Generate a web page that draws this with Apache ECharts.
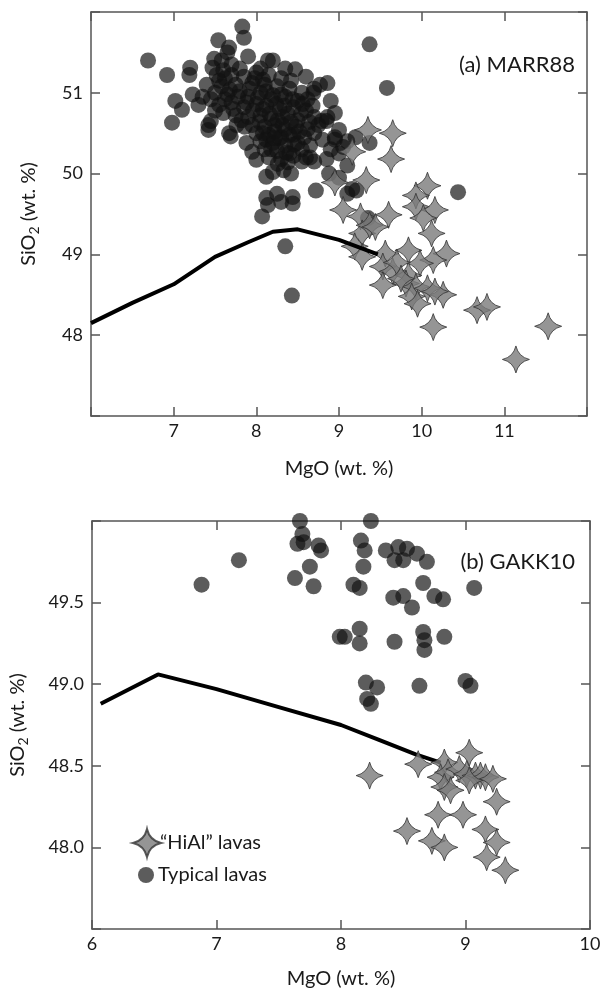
<!DOCTYPE html>
<html>
<head>
<meta charset="utf-8">
<script src="https://cdn.jsdelivr.net/npm/echarts@6/dist/echarts.min.js"></script>
<style>
html,body{margin:0;padding:0;background:#fff;}
#chart{width:604px;height:991px;}
</style>
</head>
<body>
<div id="chart"></div>
<script>
// ---------- DATA ----------
// Panel (a) MARR88 : [MgO, SiO2]
var typicalA = [
 [6.69,51.40],[6.92,51.22],[7.20,51.31],[7.19,51.22],[7.23,50.98],[7.02,50.90],[7.10,50.79],[6.98,50.63],
 [7.42,50.60],[7.42,50.54],[7.49,51.42],[7.47,51.31],[7.54,51.65],[7.67,51.56],[7.65,51.50],[7.83,51.82],
 [7.85,51.68],[8.14,51.40],[8.47,51.29],[8.42,51.15],[8.77,51.10],[8.86,51.12],[8.69,51.00],[9.37,51.60],
 [9.58,51.06],[7.69,50.46],[7.67,50.50],[7.88,50.38],[7.95,50.27],[8.00,50.17],[8.12,49.96],[8.20,50.02],
 [8.33,50.04],[8.42,50.00],[8.65,50.20],[8.86,50.70],[8.79,50.65],[9.00,50.54],[8.95,50.42],[9.05,50.33],
 [9.37,50.38],[10.44,49.77],[9.16,49.81],[8.72,49.79],[8.44,49.71],[8.30,49.65],[8.14,49.61],[8.07,49.47],
 [8.44,49.63],[8.35,49.10],[8.43,48.49],[9.21,49.79],[9.10,49.75],[9.35,49.45],
 [7.60,51.28],[7.70,51.22],[7.85,51.20],[8.00,51.25],[8.15,51.22],[8.30,51.18],[7.55,51.15],[7.75,51.10],
 [7.95,51.12],[8.10,51.10],[8.25,51.08],[8.40,51.05],[8.55,51.00],[7.50,51.00],[7.65,50.98],[7.80,51.02],
 [7.90,50.95],[8.05,51.00],[8.20,50.97],[8.35,50.95],[8.50,50.90],[8.62,50.92],[7.45,50.92],[7.55,50.85],
 [7.70,50.88],[7.85,50.82],[8.00,50.86],[8.12,50.84],[8.28,50.80],[8.45,50.82],[8.60,50.78],[7.60,50.75],
 [7.75,50.72],[7.90,50.70],[8.05,50.72],[8.18,50.68],[8.32,50.70],[8.50,50.66],[8.70,50.70],[8.85,50.65],
 [7.95,50.60],[8.10,50.58],[8.22,50.60],[8.35,50.55],[8.48,50.58],[8.62,50.55],[8.75,50.60],[8.00,50.50],
 [8.15,50.48],[8.30,50.45],[8.45,50.48],[8.58,50.45],[8.70,50.50],[8.05,50.40],[8.20,50.38],[8.35,50.35],
 [8.50,50.38],[8.65,50.35],[8.80,50.42],[8.10,50.30],[8.25,50.28],[8.40,50.25],[8.55,50.30],[8.15,50.20],
 [8.30,50.18],[8.45,50.22],[8.60,50.20],[8.90,50.30],[9.10,50.40],[8.70,50.15],[8.95,50.45],[9.00,50.25],
 [9.20,50.45],[7.40,51.10],[7.35,50.95],[7.50,50.78],[7.45,50.65],[7.30,50.85],[7.58,51.40],[7.70,51.35],
 [7.90,51.45],[8.20,51.40],[8.05,51.30],[8.35,51.30],[8.60,51.20],[8.70,51.05],[8.90,50.90],[8.95,50.75],
 [8.55,50.15],[8.85,50.18],[8.88,50.00],[9.10,50.10],[9.00,49.95],[8.25,49.75],[8.12,49.70],
 [7.58,51.08],[7.62,50.92],[7.68,51.04],[7.72,50.80],[7.78,50.95],[7.82,50.66],[7.88,50.88],[7.92,51.05],
 [7.96,50.78],[8.02,50.94],[8.04,50.64],[8.08,50.80],[8.12,51.02],[8.16,50.74],[8.18,50.92],[8.22,50.52],
 [8.24,50.86],[8.26,50.66],[8.28,50.44],[8.30,50.98],[8.32,50.60],[8.34,50.84],[8.38,50.74],[8.40,50.48],
 [8.42,50.64],[8.44,50.92],[8.46,50.36],[8.52,50.52],[8.54,50.74],[8.56,50.86],[8.08,50.50],[8.12,50.42],
 [8.18,50.30],[8.22,50.44],[8.26,50.12],[8.36,50.26],[8.38,50.14],[7.62,51.18],[7.80,51.30],[7.98,51.18],
 [8.08,51.16],[7.52,51.22],[7.86,50.58],[7.76,50.60],[8.64,50.64],[8.68,50.84]
];
var hialA = [
 [9.35,50.54],[9.65,50.50],[9.16,50.27],[9.63,50.18],[8.95,49.89],[9.33,49.92],[10.07,49.85],[9.93,49.73],
 [9.05,49.55],[9.26,49.47],[9.60,49.49],[9.93,49.59],[10.16,49.55],[10.02,49.45],[10.12,49.26],[9.28,49.26],
 [9.37,49.36],[9.44,49.34],[9.19,49.10],[9.28,48.97],[9.56,49.01],[9.84,49.05],[10.30,49.01],[10.14,48.93],
 [9.98,48.89],[9.53,48.85],[9.65,48.79],[9.84,48.74],[9.53,48.62],[9.81,48.64],[9.93,48.60],[9.88,48.48],
 [10.07,48.58],[10.26,48.50],[10.16,48.54],[9.95,48.39],[10.14,48.10],[10.67,48.31],[10.79,48.35],
 [11.53,48.11],[11.14,47.70],[9.70,48.90],[9.75,48.70]
];
var pathA = [[6.00,48.15],[6.50,48.40],[7.00,48.63],[7.50,48.97],[7.90,49.15],[8.20,49.28],[8.50,49.31],[9.00,49.18],[9.47,49.00]];

// Panel (b) GAKK10
var typicalB = [
 [7.67,50.00],[8.24,50.00],[7.69,49.92],[7.65,49.86],[7.70,49.87],[7.82,49.85],[7.84,49.82],[7.18,49.76],
 [7.75,49.72],[7.63,49.65],[7.78,49.60],[6.88,49.61],[8.16,49.88],[8.19,49.82],[8.18,49.72],[8.10,49.61],
 [8.15,49.59],[8.36,49.82],[8.46,49.84],[8.53,49.83],[8.43,49.76],[8.50,49.76],[8.61,49.80],[8.69,49.75],
 [8.66,49.62],[9.07,49.59],[8.42,49.53],[8.50,49.54],[8.57,49.47],[8.75,49.54],[8.82,49.52],[7.99,49.29],
 [8.03,49.29],[8.15,49.34],[8.15,49.25],[8.43,49.26],[8.66,49.32],[8.67,49.27],[8.67,49.21],[8.83,49.29],
 [8.20,49.01],[8.29,48.98],[8.21,48.91],[8.24,48.88],[8.63,48.99],[9.00,49.02],[9.04,48.99]
];
var hialB = [
 [8.23,48.44],[8.62,48.51],[8.83,48.52],[9.03,48.58],[8.80,48.43],[8.86,48.46],[8.95,48.48],[9.01,48.45],
 [9.08,48.44],[9.12,48.44],[9.16,48.43],[9.22,48.42],[8.83,48.37],[8.88,48.35],[9.03,48.41],[9.25,48.28],
 [8.78,48.20],[8.98,48.20],[8.53,48.10],[9.16,48.11],[8.73,48.04],[8.83,48.00],[9.25,48.03],[9.17,47.94],
 [9.32,47.86]
];
var pathB = [[6.07,48.88],[6.53,49.06],[7.00,48.97],[7.50,48.86],[8.00,48.75],[8.30,48.66],[8.60,48.57],[8.80,48.52]];

var xTicksA = [7,8,9,10,11];
var yTicksA = [48,49,50,51];
var xTicksB = [6,7,8,9,10];
var yTicksB = ['48.0','48.5','49.0','49.5'];

// ---------- CHART ----------
var FONT = 'Lato';
var STAR = 'path://M0,-10 Q1.9,-1.9 10,0 Q1.9,1.9 0,10 Q-1.9,1.9 -10,0 Q-1.9,-1.9 0,-10 Z';
var axisLine = {show:true, onZero:false, lineStyle:{color:'#555', width:1.5}};
var tick = {show:true, inside:true, length:9, lineStyle:{color:'#555', width:1.5}};
var labelStyle = {color:'#1a1a1a', fontFamily:FONT, fontSize:18};
var nameStyle = {color:'#1a1a1a', fontFamily:FONT, fontSize:20};

function xAx(grid, min, max, pos, ticks, showName) {
  return {
    type:'value', gridIndex:grid, min:min, max:max, interval:1, position:pos,
    axisLine:axisLine, axisTick:tick, splitLine:{show:false},
    axisLabel: pos==='bottom' ? Object.assign({show:true, margin:6, formatter:function(v){
        return ticks.indexOf(v)>=0 ? String(v) : '';}}, labelStyle) : {show:false},
    name: showName ? 'MgO (wt. %)' : '', nameLocation:'middle', nameGap: grid===0 ? 43 : 40,
    nameTextStyle:nameStyle
  };
}
function yAx(grid, min, max, itv, pos, ticks, dec) {
  return {
    type:'value', gridIndex:grid, min:min, max:max, interval:itv, position:pos,
    axisLine:axisLine, axisTick:tick, splitLine:{show:false},
    axisLabel: pos==='left' ? Object.assign({show:true, margin:8, formatter:function(v){
        var s = v.toFixed(dec);
        return ticks.map(String).indexOf(s)>=0 ? s : '';}}, labelStyle) : {show:false},
    name: pos==='left' ? '{a|SiO}{b|2}{a| (wt. %)}' : '', nameLocation:'middle', nameGap: dec===0 ? 50 : 62,
    nameRotate:90,
    nameTextStyle:{rich:{a:{color:'#1a1a1a', fontFamily:FONT, fontSize:20, lineHeight:24, verticalAlign:'middle'},
                         b:{color:'#1a1a1a', fontFamily:FONT, fontSize:14, lineHeight:24, verticalAlign:'bottom', padding:[7,0,0,0]}}}
  };
}

var circleStyle = {color:'rgba(18,18,18,0.86)'};
var starStyle = {color:'#7a7a7a', borderColor:'#333', borderWidth:1};

var option = {
  backgroundColor:'#fff',
  animation:false,
  title:[
    {text:'(a) MARR88', right:24, top:49, textStyle:{fontFamily:FONT, fontSize:22, fontWeight:'normal', color:'#1a1a1a'}},
    {text:'(b) GAKK10', right:24, top:546, textStyle:{fontFamily:FONT, fontSize:22, fontWeight:'normal', color:'#1a1a1a'}}
  ],
  legend:[
    {data:['\u201cHiAl\u201d lavas'], orient:'vertical', left:127, top:823, itemWidth:28, itemHeight:28, itemGap:4,
     icon:STAR, selectedMode:false, textStyle:{fontFamily:FONT, fontSize:20, color:'#1a1a1a', padding:[0,0,0,-6]}},
    {data:['Typical lavas'], orient:'vertical', left:133, top:860, itemWidth:16, itemHeight:16,
     icon:'circle', selectedMode:false, textStyle:{fontFamily:FONT, fontSize:20, color:'#1a1a1a', padding:[0,0,0,-1]}}
  ],
  grid:[
    {left:91, top:12, width:496, height:404},
    {left:90, top:521, width:500, height:408}
  ],
  xAxis:[
    xAx(0,6,12,'bottom',xTicksA,true), xAx(0,6,12,'top',xTicksA,false),
    xAx(1,6,10,'bottom',xTicksB,true), xAx(1,6,10,'top',xTicksB,false)
  ],
  yAxis:[
    yAx(0,47,52,1,'left',yTicksA,0), yAx(0,47,52,1,'right',yTicksA,0),
    yAx(1,47.5,50,0.5,'left',yTicksB,1), yAx(1,47.5,50,0.5,'right',yTicksB,1)
  ],
  series:[
    {name:'Typical lavas', type:'scatter', xAxisIndex:0, yAxisIndex:0, data:typicalA, symbol:'circle', symbolSize:16, itemStyle:circleStyle},
    {name:'\u201cHiAl\u201d lavas', type:'scatter', xAxisIndex:0, yAxisIndex:0, data:hialA, symbol:STAR, symbolSize:27, itemStyle:starStyle},
    {name:'pathA', type:'line', xAxisIndex:0, yAxisIndex:0, data:pathA, showSymbol:false, symbol:'none', lineStyle:{color:'#000', width:4}, z:5},
    {name:'Typical lavas', type:'scatter', xAxisIndex:2, yAxisIndex:2, data:typicalB, symbol:'circle', symbolSize:16, itemStyle:circleStyle},
    {name:'pathB', type:'line', xAxisIndex:2, yAxisIndex:2, data:pathB, showSymbol:false, symbol:'none', lineStyle:{color:'#000', width:4}, z:2},
    {name:'\u201cHiAl\u201d lavas', type:'scatter', xAxisIndex:2, yAxisIndex:2, data:hialB, symbol:STAR, symbolSize:27, itemStyle:starStyle, z:3}
  ]
};
var chart = echarts.init(document.getElementById('chart'), null, {renderer:'canvas'});
chart.setOption(option);
</script>
</body>
</html>
